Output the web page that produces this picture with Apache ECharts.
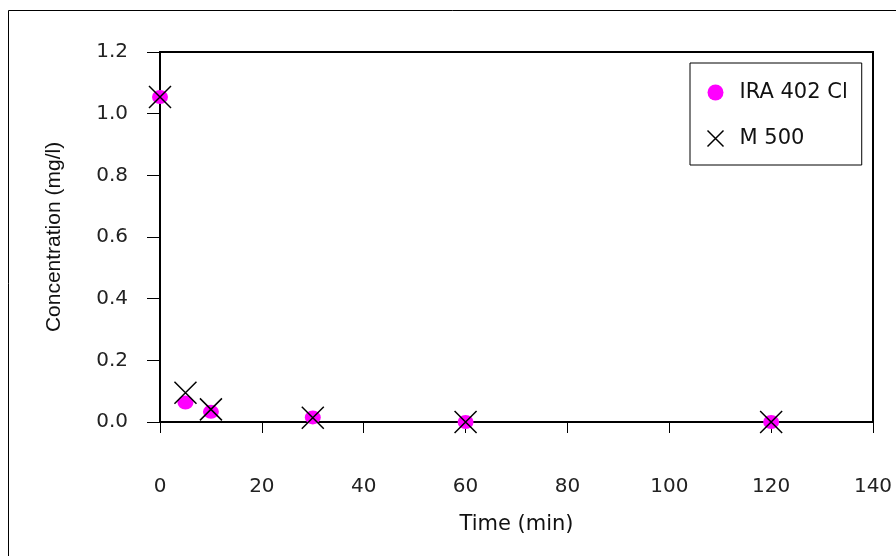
<!DOCTYPE html>
<html>
<head>
<meta charset="utf-8">
<script src="https://cdn.jsdelivr.net/npm/echarts@6/dist/echarts.min.js"></script>
<style>
  html, body { margin: 0; padding: 0; background: #fff; }
  #chart { width: 896px; height: 556px; }
</style>
</head>
<body>
<div id="chart"></div>
<script>
// Contact time (min) and residual concentration (mg/l) for two resins
const times = [0, 5, 10, 30, 60, 120];
const ira402Cl = [1.054, 0.063, 0.033, 0.015, 0.0, 0.0];
const m500 = [1.054, 0.095, 0.041, 0.014, 0.0, 0.0];
const xTicks = [0, 20, 40, 60, 80, 100, 120, 140];
const yTicks = [0, 0.2, 0.4, 0.6, 0.8, 1.0, 1.2];

const crossPath = 'path://M0,0L10,10M10,0L0,10';
const wideFont = 'DejaVu Sans, Verdana, sans-serif';
const narrowFont = 'Liberation Sans, Arial, sans-serif';

const chart = echarts.init(document.getElementById('chart'), null, { renderer: 'canvas' });

chart.setOption({
  animation: false,
  backgroundColor: '#fff',
  grid: { left: 160, top: 52, right: 23, bottom: 134, show: true, borderColor: '#000', borderWidth: 2, backgroundColor: 'transparent' },
  xAxis: {
    type: 'value',
    min: xTicks[0], max: xTicks[xTicks.length - 1], interval: 20,
    name: 'Time (min)', nameLocation: 'middle', nameGap: 92,
    nameTextStyle: { fontFamily: wideFont, fontSize: 21, color: '#111' },
    axisLine: { show: true, onZero: false, lineStyle: { color: '#000', width: 2 } },
    axisTick: { show: true, length: 11, lineStyle: { color: '#000', width: 1 } },
    axisLabel: { margin: 55, fontFamily: wideFont, fontSize: 20, color: '#222' },
    splitLine: { show: false }
  },
  yAxis: {
    type: 'value',
    min: yTicks[0], max: yTicks[yTicks.length - 1], interval: 0.2,
    name: 'Concentration (mg/l)', nameLocation: 'middle', nameGap: 95,
    nameTextStyle: { fontFamily: narrowFont, fontSize: 21, color: '#111' },
    axisLine: { show: true, onZero: false, lineStyle: { color: '#000', width: 2 } },
    axisTick: { show: true, inside: false, length: 13, lineStyle: { color: '#000', width: 1 } },
    axisLabel: { margin: 32, fontFamily: wideFont, fontSize: 20, color: '#222', formatter: v => v.toFixed(1) },
    splitLine: { show: false }
  },
  legend: {
    orient: 'vertical',
    left: 690, top: 63,
    padding: [19, 14, 16, 15],
    itemGap: 25,
    itemWidth: 22, itemHeight: 16,
    borderColor: '#000', borderWidth: 1,
    backgroundColor: '#fff',
    textStyle: { fontFamily: wideFont, fontSize: 21, color: '#111', padding: [0, 0, 0, 8] },
    data: [
      { name: 'IRA 402 Cl', icon: 'circle', itemStyle: { color: '#ff00ff', borderWidth: 0 } },
      { name: 'M 500', icon: crossPath, itemStyle: { color: 'none', borderColor: '#000', borderWidth: 1.5 } }
    ]
  },
  graphic: [
    { type: 'rect', silent: true, shape: { x: 8.5, y: 10.5, width: 900, height: 560 }, style: { fill: 'none', stroke: '#000', lineWidth: 1 }, z: -1 }
  ],
  series: [
    {
      name: 'IRA 402 Cl', type: 'scatter',
      symbol: 'circle', symbolSize: [16, 14],
      itemStyle: { color: '#ff00ff', opacity: 1 },
      data: times.map((t, i) => [t, ira402Cl[i]]),
      z: 2
    },
    {
      name: 'M 500', type: 'scatter',
      symbol: crossPath, symbolSize: 22,
      itemStyle: { color: 'none', borderColor: '#000', borderWidth: 1.5, opacity: 1 },
      data: times.map((t, i) => [t, m500[i]]),
      z: 3
    }
  ]
});
</script>
</body>
</html>
